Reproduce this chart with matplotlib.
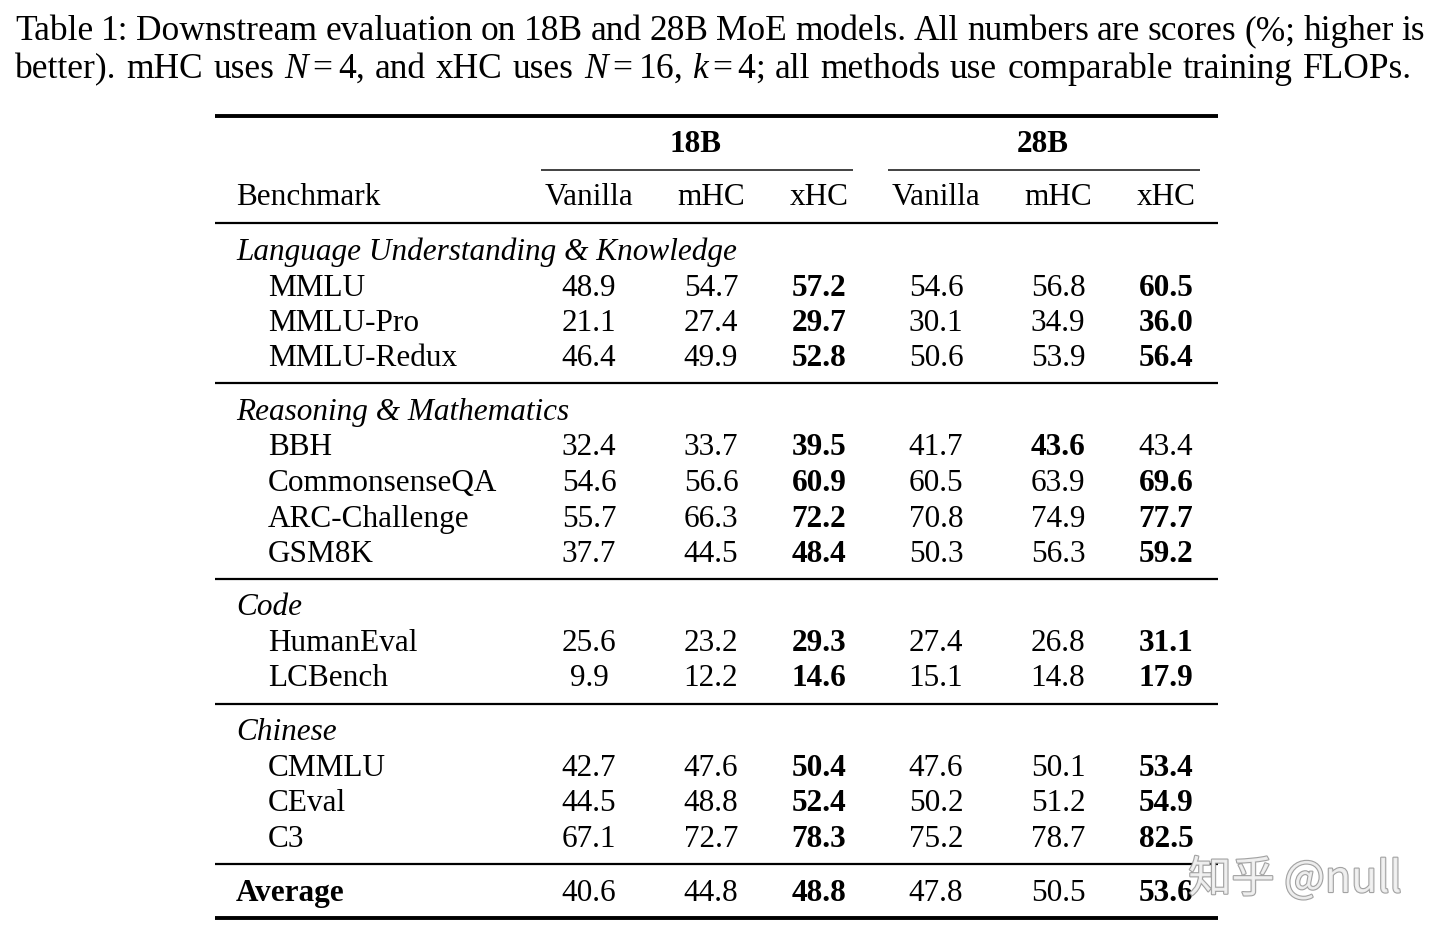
import matplotlib
matplotlib.use("Agg")
import matplotlib.pyplot as plt
import matplotlib.patheffects as pe

# ---------------- data ----------------
categories = ["Language Understanding & Knowledge", "Reasoning & Mathematics", "Code", "Chinese"]
benchmarks = [
    ["MMLU", "MMLU-Pro", "MMLU-Redux"],
    ["BBH", "CommonsenseQA", "ARC-Challenge", "GSM8K"],
    ["HumanEval", "LCBench"],
    ["CMMLU", "CEval", "C3"],
]
methods = ["Vanilla", "mHC", "xHC"]
model_sizes = ["18B", "28B"]

vanilla_18b = [48.9, 21.1, 46.4, 32.4, 54.6, 55.7, 37.7, 25.6, 9.9, 42.7, 44.5, 67.1]
mhc_18b     = [54.7, 27.4, 49.9, 33.7, 56.6, 66.3, 44.5, 23.2, 12.2, 47.6, 48.8, 72.7]
xhc_18b     = [57.2, 29.7, 52.8, 39.5, 60.9, 72.2, 48.4, 29.3, 14.6, 50.4, 52.4, 78.3]
vanilla_28b = [54.6, 30.1, 50.6, 41.7, 60.5, 70.8, 50.3, 27.4, 15.1, 47.6, 50.2, 75.2]
mhc_28b     = [56.8, 34.9, 53.9, 43.6, 63.9, 74.9, 56.3, 26.8, 14.8, 50.1, 51.2, 78.7]
xhc_28b     = [60.5, 36.0, 56.4, 43.4, 69.6, 77.7, 59.2, 31.1, 17.9, 53.4, 54.9, 82.5]
average     = [40.6, 44.8, 48.8, 47.8, 50.5, 53.6]

caption_1 = "Table 1: Downstream evaluation on 18B and 28B MoE models. All numbers are scores (%; higher is"
caption_2 = "better). mHC uses $N=4$, and xHC uses $N=16$, $k=4$; all methods use comparable training FLOPs."
watermark = "知乎 @null"

# ---------------- style ----------------
plt.rcParams["mathtext.fontset"] = "custom"
plt.rcParams["mathtext.rm"] = "Liberation Serif"
plt.rcParams["mathtext.it"] = "Liberation Serif:italic"
plt.rcParams["mathtext.bf"] = "Liberation Serif:bold"
SERIF = "Liberation Serif"
FS = 22.5
CAP_FS = 25.5

W, H = 1440, 939
fig = plt.figure(figsize=(W / 100, H / 100), dpi=100)
ax = fig.add_axes([0, 0, 1, 1])
ax.set_xlim(0, W)
ax.set_ylim(H, 0)
ax.axis("off")
renderer = fig.canvas.get_renderer()

def txt(x, y, s, ha="left", weight="normal", style="normal", size=FS):
    return ax.text(x, y, s, ha=ha, va="baseline", fontfamily=SERIF, fontsize=size,
                   fontweight=weight, fontstyle=style, color="black")

def rule(y, x0, x1, lw, color="black"):
    ax.plot([x0, x1], [y, y], color=color, lw=lw, solid_capstyle="butt")

def justified(x0, x1, y, line, size):
    words = line.split(" ")
    arts = [txt(x0, y, w, size=size) for w in words]
    widths = [a.get_window_extent(renderer).width for a in arts]
    gap = (x1 - x0 - sum(widths)) / (len(words) - 1)
    x = x0
    for a, wd in zip(arts, widths):
        a.set_x(x)
        x += wd + gap

# caption
justified(15, 1425, 40, caption_1, CAP_FS)
justified(15, 1412, 78, caption_2, CAP_FS)

L, R = 215, 1218
rule(116, L, R, 2.8)
col_x = [589, 711, 819, 936, 1058, 1166]
txt(696, 152, model_sizes[0], ha="center", weight="bold")
txt(1043, 152, model_sizes[1], ha="center", weight="bold")
rule(170, 541, 853, 1.3, "#333333")
rule(170, 888, 1200, 1.3, "#333333")
txt(236, 205, "Benchmark")
for i, m in enumerate(methods * 2):
    txt(col_x[i], 205, m, ha="center")
rule(223, L, R, 1.6)

cols = [vanilla_18b, mhc_18b, xhc_18b, vanilla_28b, mhc_28b, xhc_28b]
cat_y = [250, 410, 605, 730]
row_y = [[285, 320, 355], [444, 480, 516, 551], [640, 675], [765, 800, 836]]
sep_y = [383, 579, 704, 864]

k = 0
for g, cat in enumerate(categories):
    txt(236, cat_y[g] + 10, cat, style="italic")
    for j, b in enumerate(benchmarks[g]):
        y = row_y[g][j] + 11
        txt(268, y, b)
        for half in range(2):
            vals = [cols[half * 3 + c][k] for c in range(3)]
            best = max(vals)
            for c in range(3):
                v = vals[c]
                txt(col_x[half * 3 + c], y, f"{v:.1f}", ha="center",
                    weight="bold" if v == best else "normal")
        k += 1
    rule(sep_y[g], L, R, 1.6)

txt(236, 901, "Average", weight="bold")
for half in range(2):
    vals = average[half * 3: half * 3 + 3]
    best = max(vals)
    for c in range(3):
        v = vals[c]
        txt(col_x[half * 3 + c], 901, f"{v:.1f}", ha="center",
            weight="bold" if v == best else "normal")
rule(918, L, R, 2.8)

ax.text(1295, 880, watermark, ha="center", va="center",
        fontfamily=["Noto Sans CJK SC", "DejaVu Sans"], fontsize=31,
        color="#f2f2f2", alpha=0.92,
        path_effects=[pe.withStroke(linewidth=1.6, foreground="#9a9a9a")])

fig.savefig("out.png", dpi=100, facecolor="white")
